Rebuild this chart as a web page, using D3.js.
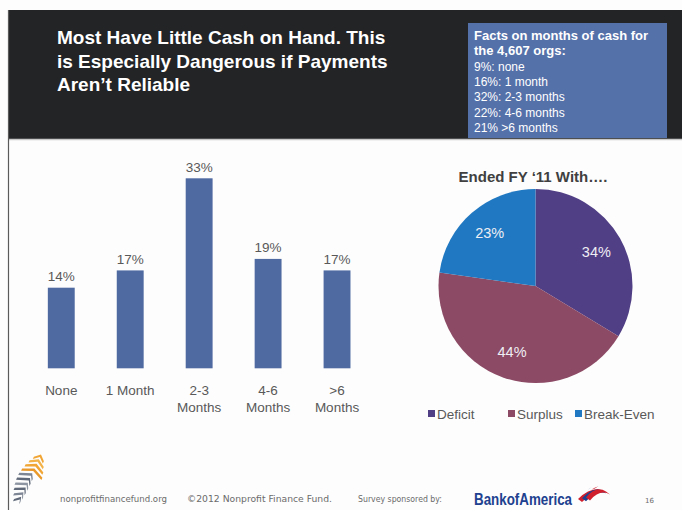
<!DOCTYPE html>
<html>
<head>
<meta charset="utf-8">
<script src="https://cdn.jsdelivr.net/npm/d3@7"></script>
<style>
  html, body { margin: 0; padding: 0; background: #ffffff; }
  svg { display: block; }
</style>
</head>
<body>
<div id="chart"></div>
<script>
// Slide title and the fact box beside it
const titleLines = ["Most Have Little Cash on Hand. This", "is Especially Dangerous if Payments", "Aren\u2019t Reliable"];
const factHeading = ["Facts on months of cash for", "the 4,607 orgs:"];
const factLines = ["9%: none", "16%: 1 month", "32%: 2-3 months", "22%: 4-6 months", "21% >6 months"];

// Bar chart: months of cash on hand
const cashCategories = ["None", "1 Month", "2-3\nMonths", "4-6\nMonths", ">6\nMonths"];
const cashShares = [14, 17, 33, 19, 17];

// Pie chart: how FY '11 ended
const pieTitle = "Ended FY \u201811 With\u2026.";
const outcomeNames = ["Deficit", "Surplus", "Break-Even"];
const outcomeShares = [34, 44, 23];
const outcomeColors = ["#513f86", "#8c4a64", "#1f78c1"];

// Footer
const footerParts = [
  { text: "nonprofitfinancefund.org", x: 60, w: 107 },
  { text: "\u00a92012 Nonprofit Finance Fund.", x: 187, w: 145 },
  { text: "Survey sponsored by:", x: 358, w: 84 }
];
const sponsorName = "BankofAmerica";
const pageNumber = "16";

const W = 682, H = 510;
const svg = d3.select("#chart").append("svg")
  .attr("width", W).attr("height", H)
  .style("font-family", "'Liberation Sans', Arial, sans-serif");

svg.append("rect").attr("width", W).attr("height", H).attr("fill", "#fdfdfd");

// Header band
svg.append("rect").attr("x", 8).attr("y", 10).attr("width", W - 8).attr("height", 129).attr("fill", "#222426");
svg.append("line").attr("x1", 8).attr("x2", W).attr("y1", 139.5).attr("y2", 139.5)
  .attr("stroke", "#c9c9c9").attr("stroke-width", 1.5);
// slide frame on the left
svg.append("line").attr("x1", 8.5).attr("x2", 8.5).attr("y1", 10).attr("y2", H)
  .attr("stroke", "#5a5a5a").attr("stroke-width", 1.2);

svg.append("g").selectAll("text").data(titleLines).join("text")
  .attr("x", 57).attr("y", (d, i) => 44 + i * 23.5)
  .attr("fill", "#ffffff").attr("font-weight", "bold").attr("font-size", 19)
  .text(d => d);

// Fact box
svg.append("rect").attr("x", 468).attr("y", 23).attr("width", 199).attr("height", 115).attr("fill", "#5571a9");
const facts = svg.append("g").attr("fill", "#ffffff");
factHeading.forEach((t, i) => {
  facts.append("text").attr("x", 474).attr("y", 40 + i * 15.3)
    .attr("font-size", 13).attr("font-weight", "bold").text(t);
});
factLines.forEach((t, i) => {
  facts.append("text").attr("x", 474).attr("y", 70.6 + i * 15.3)
    .attr("font-size", 12).text(t);
});

// ---- Bar chart ----
const x = d3.scaleBand().domain(cashCategories).range([26.8, 371.5])
  .paddingInner(0.61).paddingOuter(0.305);
const y = d3.scaleLinear().domain([0, 33]).range([368.3, 178.3]);

const bars = svg.append("g");
bars.selectAll("rect").data(cashShares).join("rect")
  .attr("x", (d, i) => x(cashCategories[i]))
  .attr("y", d => y(d))
  .attr("width", x.bandwidth())
  .attr("height", d => y(0) - y(d))
  .attr("fill", "#4f69a1");

bars.selectAll("text.val").data(cashShares).join("text")
  .attr("class", "val")
  .attr("x", (d, i) => x(cashCategories[i]) + x.bandwidth() / 2)
  .attr("y", d => y(d) - 6.5)
  .attr("text-anchor", "middle").attr("font-size", 13.5).attr("fill", "#595959")
  .text(d => d + "%");

const catLabels = bars.selectAll("text.cat").data(cashCategories).join("text")
  .attr("class", "cat")
  .attr("x", d => x(d) + x.bandwidth() / 2)
  .attr("y", 395)
  .attr("text-anchor", "middle").attr("font-size", 13.5).attr("fill", "#595959");
catLabels.selectAll("tspan").data(d => d.split("\n")).join("tspan")
  .attr("x", function () { return d3.select(this.parentNode).attr("x"); })
  .attr("dy", (d, i) => i === 0 ? 0 : 17)
  .text(d => d);

// ---- Pie chart ----
const cx = 535.5, cy = 286, r = 97;
const pie = d3.pie().sort(null).value(d => d);
const arcs = pie(outcomeShares);
const arc = d3.arc().innerRadius(0).outerRadius(r);
const labelArc = d3.arc().innerRadius(r * 0.72).outerRadius(r * 0.72);

const pg = svg.append("g").attr("transform", `translate(${cx},${cy})`);
pg.selectAll("path").data(arcs).join("path")
  .attr("d", arc)
  .attr("fill", (d, i) => outcomeColors[i]);
pg.selectAll("text").data(arcs).join("text")
  .attr("transform", d => `translate(${labelArc.centroid(d)})`)
  .attr("dy", "0.35em")
  .attr("text-anchor", "middle").attr("font-size", 14.5).attr("fill", "#eeeef4")
  .text(d => d.data + "%");

svg.append("text").attr("x", 533).attr("y", 181.5).attr("text-anchor", "middle")
  .attr("font-size", 15).attr("font-weight", "bold").attr("fill", "#404040")
  .text(pieTitle);

const legendX = [428, 508, 575];
const lg = svg.append("g");
outcomeNames.forEach((n, i) => {
  lg.append("rect").attr("x", legendX[i]).attr("y", 410).attr("width", 7).attr("height", 7)
    .attr("fill", outcomeColors[i]);
  lg.append("text").attr("x", legendX[i] + 9).attr("y", 418.5)
    .attr("font-size", 13.5).attr("fill", "#595959").text(n);
});

// ---- Footer ----
const foot = svg.append("g").attr("font-family", "'DejaVu Sans', Verdana, sans-serif")
  .attr("font-size", 8.3).attr("fill", "#6b6b6b");
foot.selectAll("text").data(footerParts).join("text")
  .attr("x", d => d.x).attr("y", 502)
  .attr("textLength", d => d.w).attr("lengthAdjust", "spacingAndGlyphs")
  .text(d => d.text);
foot.append("text").attr("x", 645).attr("y", 503).attr("font-size", 7).text(pageNumber);

svg.append("text").attr("x", 474).attr("y", 505)
  .attr("font-size", 16).attr("font-weight", "bold").attr("fill", "#20418f")
  .attr("textLength", 98).attr("lengthAdjust", "spacingAndGlyphs")
  .text(sponsorName);

// sponsor flag mark
const flag = svg.append("g").attr("transform", "translate(576,487)");
[[0, "#d0202e"], [4, "#20418f"], [8, "#d0202e"]].forEach(([o, c]) => {
  flag.append("path")
    .attr("d", `M${2 + o},${12 - o * 0.2} Q${12 + o},${2 - o * 0.5} ${22 + o},${2 + o * 0.3} L${26 + o},${5 + o * 0.3} Q${16 + o},${5 - o * 0.4} ${6 + o},${15 - o * 0.2} Z`)
    .attr("fill", c);
});
[[0, "#20418f"], [4, "#d0202e"]].forEach(([o, c]) => {
  flag.append("path")
    .attr("d", `M${9 + o * 1.6},${4 - o * 0.4} L${13 + o * 1.6},${2 - o * 0.4} L${16 + o * 1.6},${0 - o * 0.2} L${12 + o * 1.6},${2.5 - o * 0.2} Z`)
    .attr("fill", c);
});

// leaf logo: chevron stripes along a slanted stem, orange at the tip
const logo = svg.append("g").attr("transform", "translate(30,478) rotate(25)");
const stripeColors = ["#f0a534", "#f3b348", "#f0a534", "#e9992a", "#7d8694", "#5e6878", "#8d95a2", "#5e6878", "#7d8694", "#5e6878"];
stripeColors.forEach((c, i) => {
  const yy = -24 + i * 5.2;
  const half = 3 + Math.sin(Math.PI * (i + 1) / (stripeColors.length + 1)) * 9;
  logo.append("path")
    .attr("d", `M${-half},${yy + 3} L0,${yy - 2} L${half * (i < 4 ? 1 : 0.25)},${yy + 3} L${half * (i < 4 ? 1 : 0.25)},${yy + 5.5} L0,${yy + 0.8} L${-half},${yy + 5.5} Z`)
    .attr("fill", c);
});
</script>
</body>
</html>
